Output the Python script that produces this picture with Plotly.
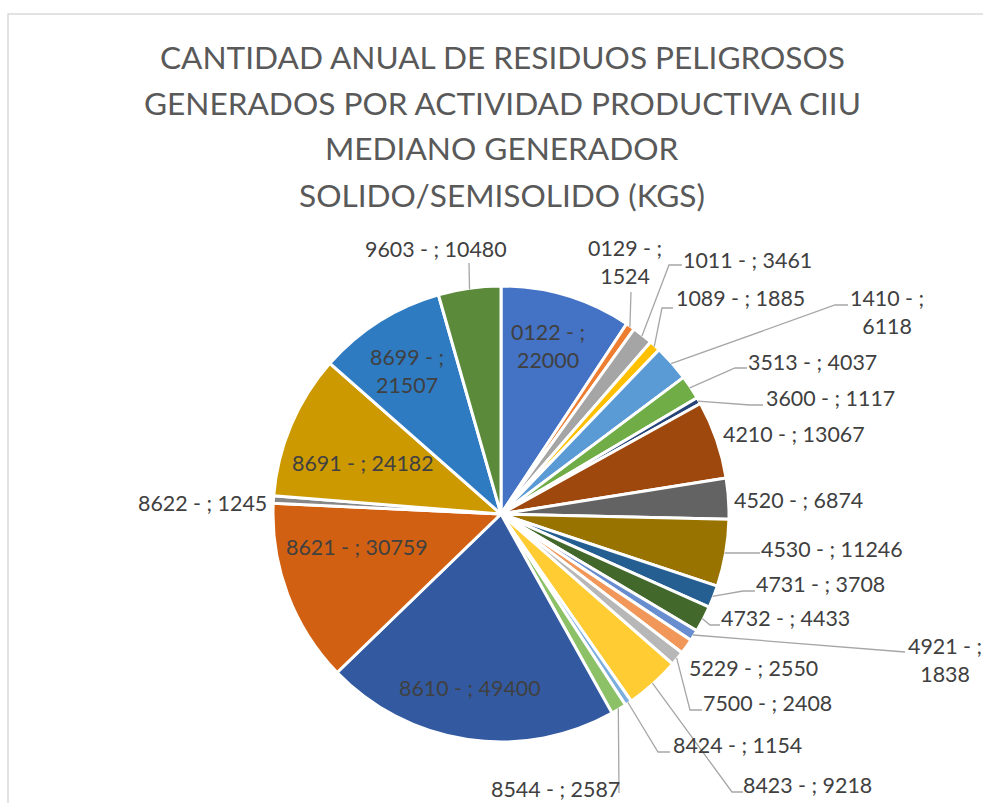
import math
import plotly.graph_objects as go

# ---------------- data ----------------
codes = ["0122", "0129", "1011", "1089", "1410", "3513", "3600", "4210", "4520",
         "4530", "4731", "4732", "4921", "5229", "7500", "8423", "8424", "8544",
         "8610", "8621", "8622", "8691", "8699", "9603"]
values = [22000, 1524, 3461, 1885, 6118, 4037, 1117, 13067, 6874,
          11246, 3708, 4433, 1838, 2550, 2408, 9218, 1154, 2587,
          49400, 30759, 1245, 24182, 21507, 10480]
title_lines = ["CANTIDAD ANUAL DE RESIDUOS PELIGROSOS",
               "GENERADOS POR ACTIVIDAD PRODUCTIVA CIIU",
               "MEDIANO GENERADOR",
               "SOLIDO/SEMISOLIDO (KGS)"]
wrapped = {"0122", "0129", "1410", "4921", "8699"}

# ---------------- style / layout ----------------
colors = ["#4472C4", "#ED7D31", "#A5A5A5", "#FFC000", "#5B9BD5", "#70AD47",
          "#264478", "#9E480E", "#636363", "#997300", "#255E91", "#43682B",
          "#698ED0", "#F1975A", "#B7B7B7", "#FFCD33", "#7CAFDD", "#8CC168",
          "#335AA1", "#D26012", "#878787", "#CC9A00", "#2E7BC2", "#5A8A3A"]

W, H = 983, 803
cx, cy, r = 501, 514, 228

# label centres (pixels) as placed in the original chart
label_pos = {
    "0122": (548, 346), "0129": (625, 262), "1011": (747, 260), "1089": (740, 298),
    "1410": (887, 312), "3513": (812, 362), "3600": (830, 398), "4210": (794, 434),
    "4520": (798, 500), "4530": (832, 549), "4731": (820, 584), "4732": (785, 618),
    "4921": (945, 660), "5229": (753, 668), "7500": (767, 703), "8423": (807, 785),
    "8424": (737, 745), "8544": (555, 789), "8610": (470, 688), "8621": (357, 547),
    "8622": (202, 503), "8691": (363, 463), "8699": (407, 371), "9603": (436, 249),
}
# leader-line bend points (pixels), starting from the slice edge
leader_pts = {
    "9603": [(469, 263)], "0129": [(631, 292)], "1011": [(669, 265), (682, 265)],
    "1089": [(662, 308), (673, 308)], "1410": [(835, 305), (848, 305)],
    "3513": [(735, 368), (747, 368)], "3600": [(750, 405), (763, 405)],
    "4530": [(760, 553)], "4731": [(743, 591), (755, 591)],
    "4732": [(710, 625), (720, 625)], "4921": [(905, 652)],
    "7500": [(690, 710), (702, 710)], "8423": [(732, 792), (743, 792)],
    "8424": [(658, 752), (670, 752)], "8544": [(619, 793)],
}

def px(x):
    return x / W

def py(y):
    return 1 - y / H

fig = go.Figure(go.Pie(
    labels=codes, values=values, textinfo="none",
    sort=False, direction="clockwise", rotation=0,
    marker=dict(colors=colors, line=dict(color="white", width=3)),
    domain=dict(x=[px(cx - r), px(cx + r)], y=[py(cy + r), py(cy - r)]),
    showlegend=False, hoverinfo="label+value",
))

# data labels
total = sum(values)
cum = 0
for c, v in zip(codes, values):
    mid = (cum + v / 2) / total
    cum += v
    ang = 2 * math.pi * mid
    hx = cx + (r - 1) * math.sin(ang)
    hy = cy - (r - 1) * math.cos(ang)
    txt = f"{c} - ;<br>{v}" if c in wrapped else f"{c} - ; {v}"
    lx, ly = label_pos[c]
    fig.add_annotation(text=txt, x=px(lx), y=py(ly), xref="paper", yref="paper",
                       showarrow=False, xanchor="center", yanchor="middle",
                       align="center",
                       font=dict(family="Lato", size=21.4, color="#404040"))
    if c in leader_pts:
        pts = [(hx, hy)] + leader_pts[c]
        path = "M " + " L ".join(f"{px(x):.5f},{py(y):.5f}" for x, y in pts)
        fig.add_shape(type="path", path=path, xref="paper", yref="paper",
                      line=dict(color="#A6A6A6", width=1.3))

# title
title_y = [56.5, 103, 148.5, 195]
for t, y in zip(title_lines, title_y):
    fig.add_annotation(text=t, x=px(502), y=py(y), xref="paper", yref="paper",
                       showarrow=False, xanchor="center", yanchor="middle",
                       font=dict(family="Lato", size=31.6, color="#595959"))

# chart-area border
fig.add_shape(type="rect", x0=px(8), x1=1.05, y0=-0.05, y1=py(14),
              xref="paper", yref="paper", line=dict(color="#D9D9D9", width=1.5))

fig.update_layout(width=W, height=H, margin=dict(l=0, r=0, t=0, b=0),
                  paper_bgcolor="white", plot_bgcolor="white")
fig.write_html("out.html", config={"displayModeBar": False},
               post_script="document.body.style.margin='0';")
